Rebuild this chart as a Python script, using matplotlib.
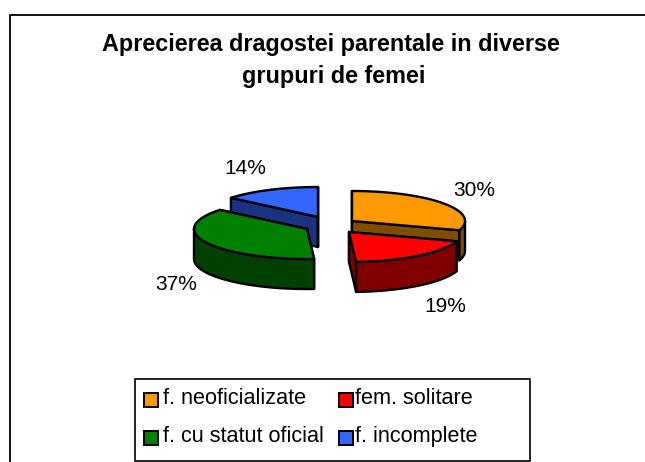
import numpy as np
import matplotlib
matplotlib.use("Agg")
import matplotlib.pyplot as plt
from matplotlib.patches import Polygon, Rectangle

plt.rcParams['font.family'] = ['Liberation Sans', 'DejaVu Sans']

# Chart values
title_lines = ["Aprecierea dragostei parentale in diverse", "grupuri de femei"]
categories = ["f. neoficializate", "fem. solitare", "f. cu statut oficial", "f. incomplete"]
values = [30, 19, 37, 14]
top_colors = ["#FF9900", "#FF0000", "#008000", "#3366FF"]
side_colors = ["#804D00", "#800000", "#004000", "#1A3380"]

# Layout, in image pixels
centers = [(352, 221), (349, 232), (307, 229), (318, 217)]
label_pos = [(474, 190), (445, 307), (176, 285), (245, 168)]
rx, ry, depth = 113, 30, 30
lw = 1.7

fig = plt.figure(figsize=(6.45, 4.62), dpi=100)
ax = fig.add_axes([0, 0, 1, 1])
ax.set_xlim(0, 645)
ax.set_ylim(462, 0)
ax.axis("off")

# Chart frame: only the top and left edges fall inside the picture
ax.plot([645, 9.5, 9.5], [14.5, 14.5, 462], color="black", lw=1.3)

ax.text(331, 44, title_lines[0], ha="center", va="center", fontsize=16.8, fontweight="bold", color="black")
ax.text(334, 76, title_lines[1], ha="center", va="center", fontsize=16.8, fontweight="bold", color="black")


def rim(cx, cy, a0, a1):
    # angles are clockwise from 12 o'clock, in degrees
    t = np.radians(np.linspace(a0, a1, 60))
    return np.column_stack([cx + rx * np.sin(t), cy - ry * np.cos(t)])


def draw_slice(k, a0, a1):
    cx, cy = centers[k]
    apex = np.array([cx, cy])
    arc = rim(cx, cy, a0, a1)
    shift = np.array([0, depth])
    # cut faces first, back to front
    for edge in (arc[0], arc[-1]):
        ax.add_patch(Polygon([apex, edge, edge + shift, apex + shift], fc=side_colors[k], ec="black",
                             lw=lw, joinstyle="round"))
    # outer wall only where it faces the viewer
    lo, hi = max(a0, 90), min(a1, 270)
    if hi > lo:
        wall = rim(cx, cy, lo, hi)
        ax.add_patch(Polygon(np.vstack([wall, (wall + shift)[::-1]]), fc=side_colors[k], ec="black",
                             lw=lw, joinstyle="round"))
    ax.add_patch(Polygon(np.vstack([apex, arc]), fc=top_colors[k], ec="black", lw=lw, joinstyle="round"))


starts = np.cumsum([0] + values[:-1]) * 3.6
ends = np.cumsum(values) * 3.6
# back slices first so the front ones overlap them
for k in [3, 2, 0, 1]:
    draw_slice(k, starts[k], ends[k])

for k, (x, y) in enumerate(label_pos):
    ax.text(x, y, f"{values[k]}%", ha="center", va="center", fontsize=15, color="black")

# Legend box
ax.add_patch(Rectangle((135, 379), 395, 81.5, fc="white", ec="black", lw=1.2, zorder=5))
legend_xy = [(143.5, 400), (338.5, 400), (143.5, 437.5), (338.5, 437.5)]
text_x = [163, 355, 163, 355]
for k, (x, y) in enumerate(legend_xy):
    ax.add_patch(Rectangle((x, y - 7), 14, 14, fc=top_colors[k], ec="black", lw=1.4, zorder=6))
    ax.text(text_x[k], y - 1, categories[k], ha="left", va="center", fontsize=15.6, color="black", zorder=6)

fig.savefig("out.png", dpi=100)
